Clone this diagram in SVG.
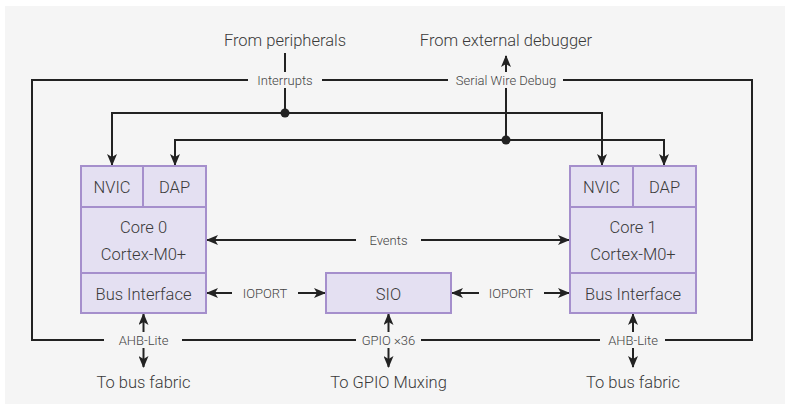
<svg xmlns="http://www.w3.org/2000/svg" width="785" height="406" viewBox="0 0 785 406">
<style>
.box{fill:#e4e0f2;stroke:#a58fcc;stroke-width:2}
.t{font-family:Roboto,"Liberation Sans",sans-serif;font-size:16.5px;font-weight:300;fill:#3a3a3a;text-anchor:middle;dominant-baseline:central}
.s{font-family:Roboto,"Liberation Sans",sans-serif;font-size:13px;font-weight:300;fill:#444;text-anchor:middle;dominant-baseline:central}
.w{fill:none;stroke:#222;stroke-width:2}
.bg{fill:#f5f5f5}
</style>
<defs>
<marker id="ah" viewBox="0 0 12 10" refX="11" refY="5" markerWidth="12" markerHeight="10" markerUnits="userSpaceOnUse" orient="auto-start-reverse">
<path d="M0,0 L12,5 L0,10 L3,5 z" fill="#222"/>
</marker>
</defs>
<rect x="5" y="6" width="780" height="398" fill="#f5f5f5"/>
<g id="connectors">
<rect class="w" x="32" y="80" width="720" height="260"/>
<path class="w" d="M285,53 V113"/>
<path class="w" d="M285,113 H112 V165" marker-end="url(#ah)"/>
<path class="w" d="M285,113 H602 V165" marker-end="url(#ah)"/>
<circle cx="285" cy="113" r="4.5" fill="#222"/>
<path class="w" d="M506,140 V56" marker-end="url(#ah)"/>
<path class="w" d="M506,140 H175 V165" marker-end="url(#ah)"/>
<path class="w" d="M506,140 H664 V165" marker-end="url(#ah)"/>
<circle cx="506" cy="140" r="4.5" fill="#222"/>
<path class="w" d="M207,240 H569" marker-start="url(#ah)" marker-end="url(#ah)"/>
<path class="w" d="M207,293 H325" marker-start="url(#ah)" marker-end="url(#ah)"/>
<path class="w" d="M452,293 H569" marker-start="url(#ah)" marker-end="url(#ah)"/>
<path class="w" d="M143.5,314 V367" marker-start="url(#ah)" marker-end="url(#ah)"/>
<path class="w" d="M388.5,314 V367" marker-start="url(#ah)" marker-end="url(#ah)"/>
<path class="w" d="M633,314 V367" marker-start="url(#ah)" marker-end="url(#ah)"/>
<rect class="bg" x="248" y="72" width="74" height="16"/>
<text class="s" x="285" y="80">Interrupts</text>
<rect class="bg" x="448" y="72" width="115" height="16"/>
<text class="s" x="506" y="80">Serial Wire Debug</text>
<rect class="bg" x="356" y="232" width="65" height="16"/>
<text class="s" x="388.5" y="240">Events</text>
<rect class="bg" x="232" y="285" width="66" height="16"/>
<text class="s" x="265" y="293">IOPORT</text>
<rect class="bg" x="479" y="285" width="65" height="16"/>
<text class="s" x="511" y="293">IOPORT</text>
<rect class="bg" x="104" y="332" width="78" height="16"/>
<text class="s" x="143.5" y="340">AHB-Lite</text>
<rect class="bg" x="356" y="332" width="65" height="16"/>
<text class="s" x="388.5" y="340">GPIO ×36</text>
<rect class="bg" x="600" y="332" width="65" height="16"/>
<text class="s" x="633" y="340">AHB-Lite</text>
</g>
<g id="from-peripherals"><text class="t" x="285" y="40">From peripherals</text></g>
<g id="from-debugger"><text class="t" x="506" y="40">From external debugger</text></g>
<g id="core0">
<rect class="box" x="81" y="166" width="62" height="41"/>
<text class="t" x="112" y="187">NVIC</text>
<rect class="box" x="143" y="166" width="63" height="41"/>
<text class="t" x="174.5" y="187">DAP</text>
<rect class="box" x="81" y="207" width="125" height="66"/>
<text class="t" x="143.5" y="227">Core 0</text>
<text class="t" x="143.5" y="254">Cortex-M0+</text>
<rect class="box" x="81" y="273" width="125" height="40"/>
<text class="t" x="143.5" y="294">Bus Interface</text>
</g>
<g id="sio">
<rect class="box" x="326" y="273" width="125" height="40"/>
<text class="t" x="388.5" y="294">SIO</text>
</g>
<g id="core1">
<rect class="box" x="570" y="166" width="63" height="41"/>
<text class="t" x="601.5" y="187">NVIC</text>
<rect class="box" x="633" y="166" width="63" height="41"/>
<text class="t" x="664.5" y="187">DAP</text>
<rect class="box" x="570" y="207" width="126" height="66"/>
<text class="t" x="633" y="227">Core 1</text>
<text class="t" x="633" y="254">Cortex-M0+</text>
<rect class="box" x="570" y="273" width="126" height="40"/>
<text class="t" x="633" y="294">Bus Interface</text>
</g>
<g id="to-bus-fabric-0"><text class="t" x="143.5" y="382">To bus fabric</text></g>
<g id="to-gpio"><text class="t" x="388.5" y="382">To GPIO Muxing</text></g>
<g id="to-bus-fabric-1"><text class="t" x="633" y="382">To bus fabric</text></g>
</svg>
